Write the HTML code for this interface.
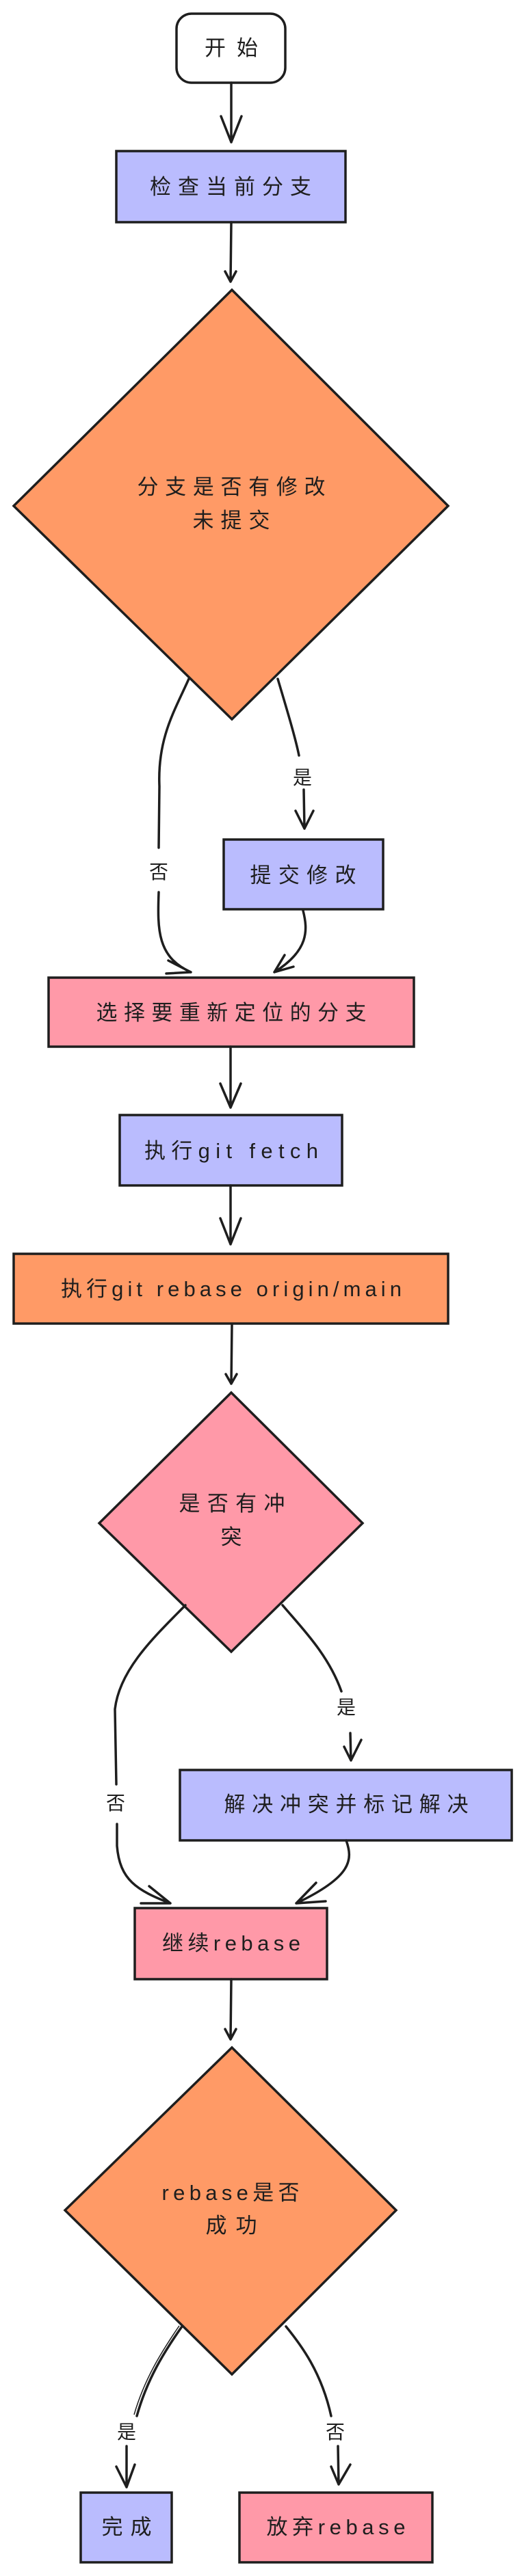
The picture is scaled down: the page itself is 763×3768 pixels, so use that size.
<!DOCTYPE html>
<html><head><meta charset="utf-8"><style>
html,body{margin:0;padding:0;background:#fff;}
svg{display:block;}
text{font-family:"Liberation Sans","Noto Sans CJK SC",sans-serif;font-size:31px;fill:#1e1e1e;text-anchor:middle;}
.b{stroke:#1e1e1e;stroke-width:3.5;}
.l{fill:none;stroke:#1e1e1e;stroke-width:3.5;stroke-linecap:round;stroke-linejoin:round;}
.lbl{font-size:28px;}
</style></head><body>
<svg width="763" height="3768" viewBox="0 0 763 3768" xmlns="http://www.w3.org/2000/svg">
<rect width="763" height="3768" fill="#fff"/>
<!-- start -->
<rect class="b" x="258" y="20" width="159" height="101" rx="22" fill="#fff"/>
<text x="338" y="81" textLength="78" lengthAdjust="spacing">开始</text>
<path class="l" d="M338 121 L338 208 M323 170 L338 208 L353 170"/>
<!-- check -->
<rect class="b" x="170" y="221" width="335" height="104" fill="#babcfe"/>
<text x="337" y="284" textLength="236" lengthAdjust="spacing">检查当前分支</text>
<path class="l" d="M338 325 L337 412 M329 397 L337 412 L345 397"/>
<!-- diamond1 -->
<polygon class="b" points="339,424 655,740 339,1052 20,740" fill="#ff9a66"/>
<text x="338" y="723" textLength="275" lengthAdjust="spacing">分支是否有修改</text>
<text x="338" y="772" textLength="113" lengthAdjust="spacing">未提交</text>
<!-- no branch -->
<path class="l" d="M276 993 C255 1040 230 1080 233 1150 L232 1240 M232 1305 C230 1360 230 1400 279 1422 M246 1405 L279 1422 L243 1424"/>
<text class="lbl" x="232" y="1285">否</text>
<!-- yes branch -->
<path class="l" d="M406 993 C420 1040 432 1080 437 1105 M444 1155 L445 1212 M432 1186 L445 1212 L458 1186"/>
<text class="lbl" x="442" y="1147">是</text>
<rect class="b" x="327" y="1228" width="233" height="102" fill="#babcfe"/>
<text x="443" y="1291" textLength="155" lengthAdjust="spacing">提交修改</text>
<path class="l" d="M443 1332 C450 1360 452 1390 401 1422 M416 1397 L401 1422 L429 1414"/>
<!-- select -->
<rect class="b" x="71" y="1430" width="534" height="101" fill="#ff99a8"/>
<text x="338" y="1492" textLength="395" lengthAdjust="spacing">选择要重新定位的分支</text>
<path class="l" d="M337 1531 L337 1620 M322 1585 L337 1620 L352 1585"/>
<!-- fetch -->
<rect class="b" x="175" y="1631" width="325" height="103" fill="#babcfe"/>
<text x="338" y="1694" textLength="254" lengthAdjust="spacing">执行git fetch</text>
<path class="l" d="M337 1734 L337 1820 M322 1782 L337 1820 L352 1782"/>
<!-- rebase origin -->
<rect class="b" x="20" y="1834" width="635" height="102" fill="#ff9a66"/>
<text x="338" y="1896" textLength="498" lengthAdjust="spacing">执行git rebase origin/main</text>
<path class="l" d="M339 1938 L338 2024 M330 2010 L338 2024 L346 2010"/>
<!-- diamond2 -->
<polygon class="b" points="338,2037 530,2228 338,2416 145,2228" fill="#ff99a8"/>
<text x="339" y="2210" textLength="155" lengthAdjust="spacing">是否有冲</text>
<text x="338" y="2259">突</text>
<!-- no -->
<path class="l" d="M271 2348 C230 2390 175 2440 168 2500 L170 2610 M171 2668 L171 2700 C175 2750 200 2765 249 2784 M218 2759 L249 2784 L206 2784"/>
<text class="lbl" x="169" y="2647">否</text>
<!-- yes -->
<path class="l" d="M413 2348 C440 2380 480 2420 499 2474 M512 2535 L513 2575 M503 2555 L513 2575 L528 2545"/>
<text class="lbl" x="506" y="2507">是</text>
<rect class="b" x="263" y="2589" width="485" height="103" fill="#babcfe"/>
<text x="506" y="2650" textLength="357" lengthAdjust="spacing">解决冲突并标记解决</text>
<path class="l" d="M506 2692 C516 2720 515 2745 433 2784 M462 2754 L433 2784 L476 2781"/>
<!-- continue -->
<rect class="b" x="197" y="2791" width="281" height="104" fill="#ff99a8"/>
<text x="338" y="2853" textLength="202" lengthAdjust="spacing">继续rebase</text>
<path class="l" d="M338 2895 L337 2983 M329 2968 L337 2983 L345 2968"/>
<!-- diamond3 -->
<polygon class="b" points="339,2995 579,3233 339,3473 95,3233" fill="#ff9a66"/>
<text x="337" y="3218" textLength="201" lengthAdjust="spacing">rebase是否</text>
<text x="338" y="3266" textLength="75" lengthAdjust="spacing">成功</text>
<!-- yes -->
<path class="l" d="M266 3403 C240 3440 215 3480 200 3534 M185 3578 L185 3638 M170 3608 L185 3638 L197 3605"/>
<path d="M262 3402 C236 3440 211 3480 196 3532" fill="none" stroke="#1e1e1e" stroke-width="1.5"/>
<text class="lbl" x="185" y="3567">是</text>
<!-- no -->
<path class="l" d="M418 3403 C440 3430 470 3470 484 3534 M494 3578 L495 3634 M484 3608 L495 3634 L512 3605"/>
<text class="lbl" x="490" y="3567">否</text>
<rect class="b" x="118" y="3646" width="133" height="102" fill="#babcfe"/>
<text x="185" y="3707" textLength="73" lengthAdjust="spacing">完成</text>
<rect class="b" x="350" y="3646" width="282" height="102" fill="#ff99a8"/>
<text x="491" y="3707" textLength="203" lengthAdjust="spacing">放弃rebase</text>
</svg>
</body></html>
